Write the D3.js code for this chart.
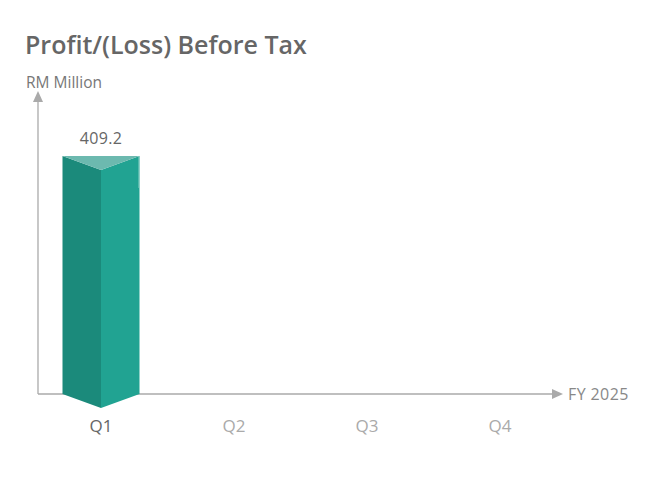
<!DOCTYPE html>
<html><head><meta charset="utf-8">
<script src="https://cdn.jsdelivr.net/npm/d3@7"></script>
<style>html,body{margin:0;padding:0;background:#fff;}svg{display:block;font-family:"Open Sans",Lato,sans-serif;}</style>
</head><body>
<svg id="c" width="646" height="486"></svg>
<script>
const categories = ["Q1", "Q2", "Q3", "Q4"];
const values = [409.2, null, null, null];
const title = "Profit/(Loss) Before Tax";
const yLabel = "RM Million";
const xLabel = "FY 2025";

const svg = d3.select("#c");
const x0 = 38, y0 = 394;
const x = d3.scaleBand().domain(categories).range([34.5, 566.5]).paddingInner(0.42).paddingOuter(0.21);
const y = d3.scaleLinear().domain([0, 514]).range([y0, 95]);

svg.append("text").attr("x", 25).attr("y", 54).attr("font-size", 25).attr("font-weight", 600)
  .attr("fill", "#666").text(title);
svg.append("text").attr("x", 26).attr("y", 88).attr("font-size", 15.5).attr("fill", "#777").text(yLabel);

// axes
svg.append("line").attr("x1", x0).attr("x2", x0).attr("y1", y0).attr("y2", 100).attr("stroke", "#aaa").attr("stroke-width", 1.3);
svg.append("path").attr("d", `M${x0-5},${102} L${x0},${91} L${x0+5},${102} Z`).attr("fill", "#aaa");
svg.append("line").attr("x1", x0).attr("x2", 554).attr("y1", y0).attr("y2", y0).attr("stroke", "#aaa").attr("stroke-width", 1.3);
svg.append("path").attr("d", `M${552},${y0-5} L${563},${y0} L${552},${y0+5} Z`).attr("fill", "#aaa");
svg.append("text").attr("x", 568).attr("y", 399.5).attr("font-size", 16).attr("letter-spacing", 0.4).attr("fill", "#888").text(xLabel);

// bars
const bw = 77;
const drop = 14;
values.forEach((v, i) => {
  if (v == null) return;
  const cx = x(categories[i]) + x.bandwidth() / 2;
  const l = cx - bw / 2, r = cx + bw / 2, t = y(v), b = y(0);
  const g = svg.append("g");
  g.append("path").attr("d", `M${l},${t} L${cx},${t+drop} L${cx},${b+drop} L${l},${b} Z`).attr("fill", "#1b8a7b");
  g.append("path").attr("d", `M${cx},${t+drop} L${r},${t} L${r},${b} L${cx},${b+drop} Z`).attr("fill", "#21a392");
  g.append("path").attr("d", `M${l},${t} L${r},${t} L${cx},${t+drop} Z`).attr("fill", "#6cb9af");
  g.append("line").attr("x1", r - 0.5).attr("x2", r - 0.5).attr("y1", t).attr("y2", t + 32).attr("stroke", "#8fcfc6").attr("stroke-width", 1);
  g.append("text").attr("x", cx).attr("y", t - 12).attr("text-anchor", "middle").attr("font-size", 16).attr("letter-spacing", 0.3).attr("fill", "#666").text(d3.format(".1f")(v));
});

// category labels
categories.forEach((c, i) => {
  svg.append("text").attr("x", x(c) + x.bandwidth() / 2).attr("y", 432).attr("text-anchor", "middle")
    .attr("font-size", 17).attr("fill", values[i] == null ? "#aaa" : "#666").text(c);
});
</script>
</body></html>
